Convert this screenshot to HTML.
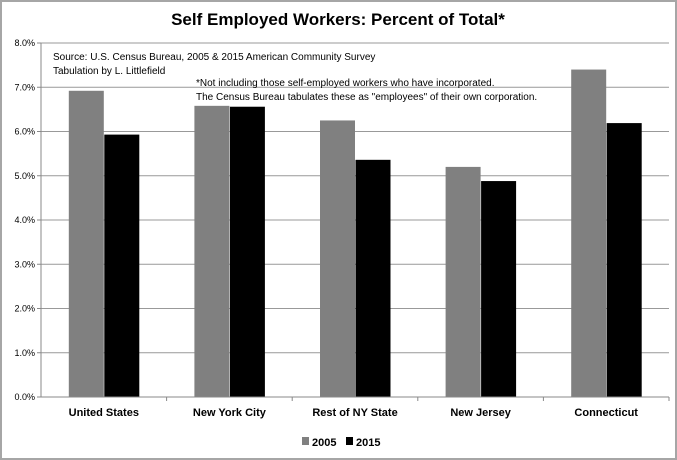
<!DOCTYPE html>
<html><head><meta charset="utf-8"><style>
body{margin:0;background:#fff;}
svg{display:block;font-family:"Liberation Sans",sans-serif;}
</style></head><body>
<svg id="c" width="677" height="460">
<rect x="1" y="1" width="675" height="458" fill="#fff" stroke="#a6a6a6" stroke-width="2"/>
<text x="338" y="25" text-anchor="middle" font-size="17" font-weight="bold">Self Employed Workers:  Percent of Total*</text>
<g id="grid"></g>
<g id="bars"></g>
<g id="axes"></g>
<text x="53" y="60" font-size="10">Source:  U.S. Census Bureau, 2005 &amp; 2015 American Community Survey</text>
<text x="53" y="74" font-size="10">Tabulation by L. Littlefield</text>
<text x="196" y="86" font-size="10">*Not including those self-employed workers who have incorporated.</text>
<text x="196" y="100" font-size="10">The Census Bureau tabulates these as "employees" of their own corporation.</text>
<g>
<rect x="302" y="437" width="7" height="8" fill="#808080"/>
<text x="312" y="446" font-size="11" font-weight="bold">2005</text>
<rect x="346" y="437" width="7" height="8" fill="#000"/>
<text x="356" y="446" font-size="11" font-weight="bold">2015</text>
</g>
</svg>
<script>
const categories=["United States","New York City","Rest of NY State","New Jersey","Connecticut"];
const values2005=[6.92,6.58,6.25,5.2,7.4];
const values2015=[5.93,6.56,5.36,4.88,6.19];
const yTicks=[0,1,2,3,4,5,6,7,8];
const yTickLabels=["0.0%","1.0%","2.0%","3.0%","4.0%","5.0%","6.0%","7.0%","8.0%"];
const NS="http://www.w3.org/2000/svg";
const L=41,R=669,T=43,B=397,yMax=8;
const y=v=>B-(v/yMax)*(B-T);
const gw=(R-L)/categories.length;
const xc=i=>L+gw*(i+0.5);
const bw=35;
function mk(tag,attrs,parent){const e=document.createElementNS(NS,tag);for(const k in attrs)e.setAttribute(k,attrs[k]);document.getElementById(parent).appendChild(e);return e;}
yTicks.forEach((t,i)=>{
 const g=mk("line",{x1:L,x2:R,y1:y(t),y2:y(t),stroke:"#999","stroke-width":1},"grid");
 
 
 const tk=mk("line",{x1:L-4,x2:L,y1:y(t),y2:y(t),stroke:"#888"},"axes");
 
 
 const tx=mk("text",{x:L-6,y:y(t)+3,"text-anchor":"end","font-size":"9"},"axes");
 tx.textContent=yTickLabels[i];
 
 
});
const ya=mk("line",{x1:L,x2:L,y1:T,y2:B,stroke:"#888"},"axes");


const xa=mk("line",{x1:L,x2:R,y1:B,y2:B,stroke:"#888"},"axes");


categories.forEach((c,i)=>{
 const b1=mk("rect",{x:xc(i)-bw,y:y(values2005[i]),width:bw,height:B-y(values2005[i]),fill:"#808080"},"bars");
 
 
 const b2=mk("rect",{x:xc(i)+0.5,y:y(values2015[i]),width:bw,height:B-y(values2015[i]),fill:"#000"},"bars");
 
 
 const tk=mk("line",{x1:L+gw*(i+1),x2:L+gw*(i+1),y1:B,y2:B+4,stroke:"#888"},"axes");
 
 
 const tx=mk("text",{x:xc(i),y:B+19,"text-anchor":"middle","font-size":"11","font-weight":"bold"},"axes");
 tx.textContent=c;
 
 
});
</script>
</body></html>
